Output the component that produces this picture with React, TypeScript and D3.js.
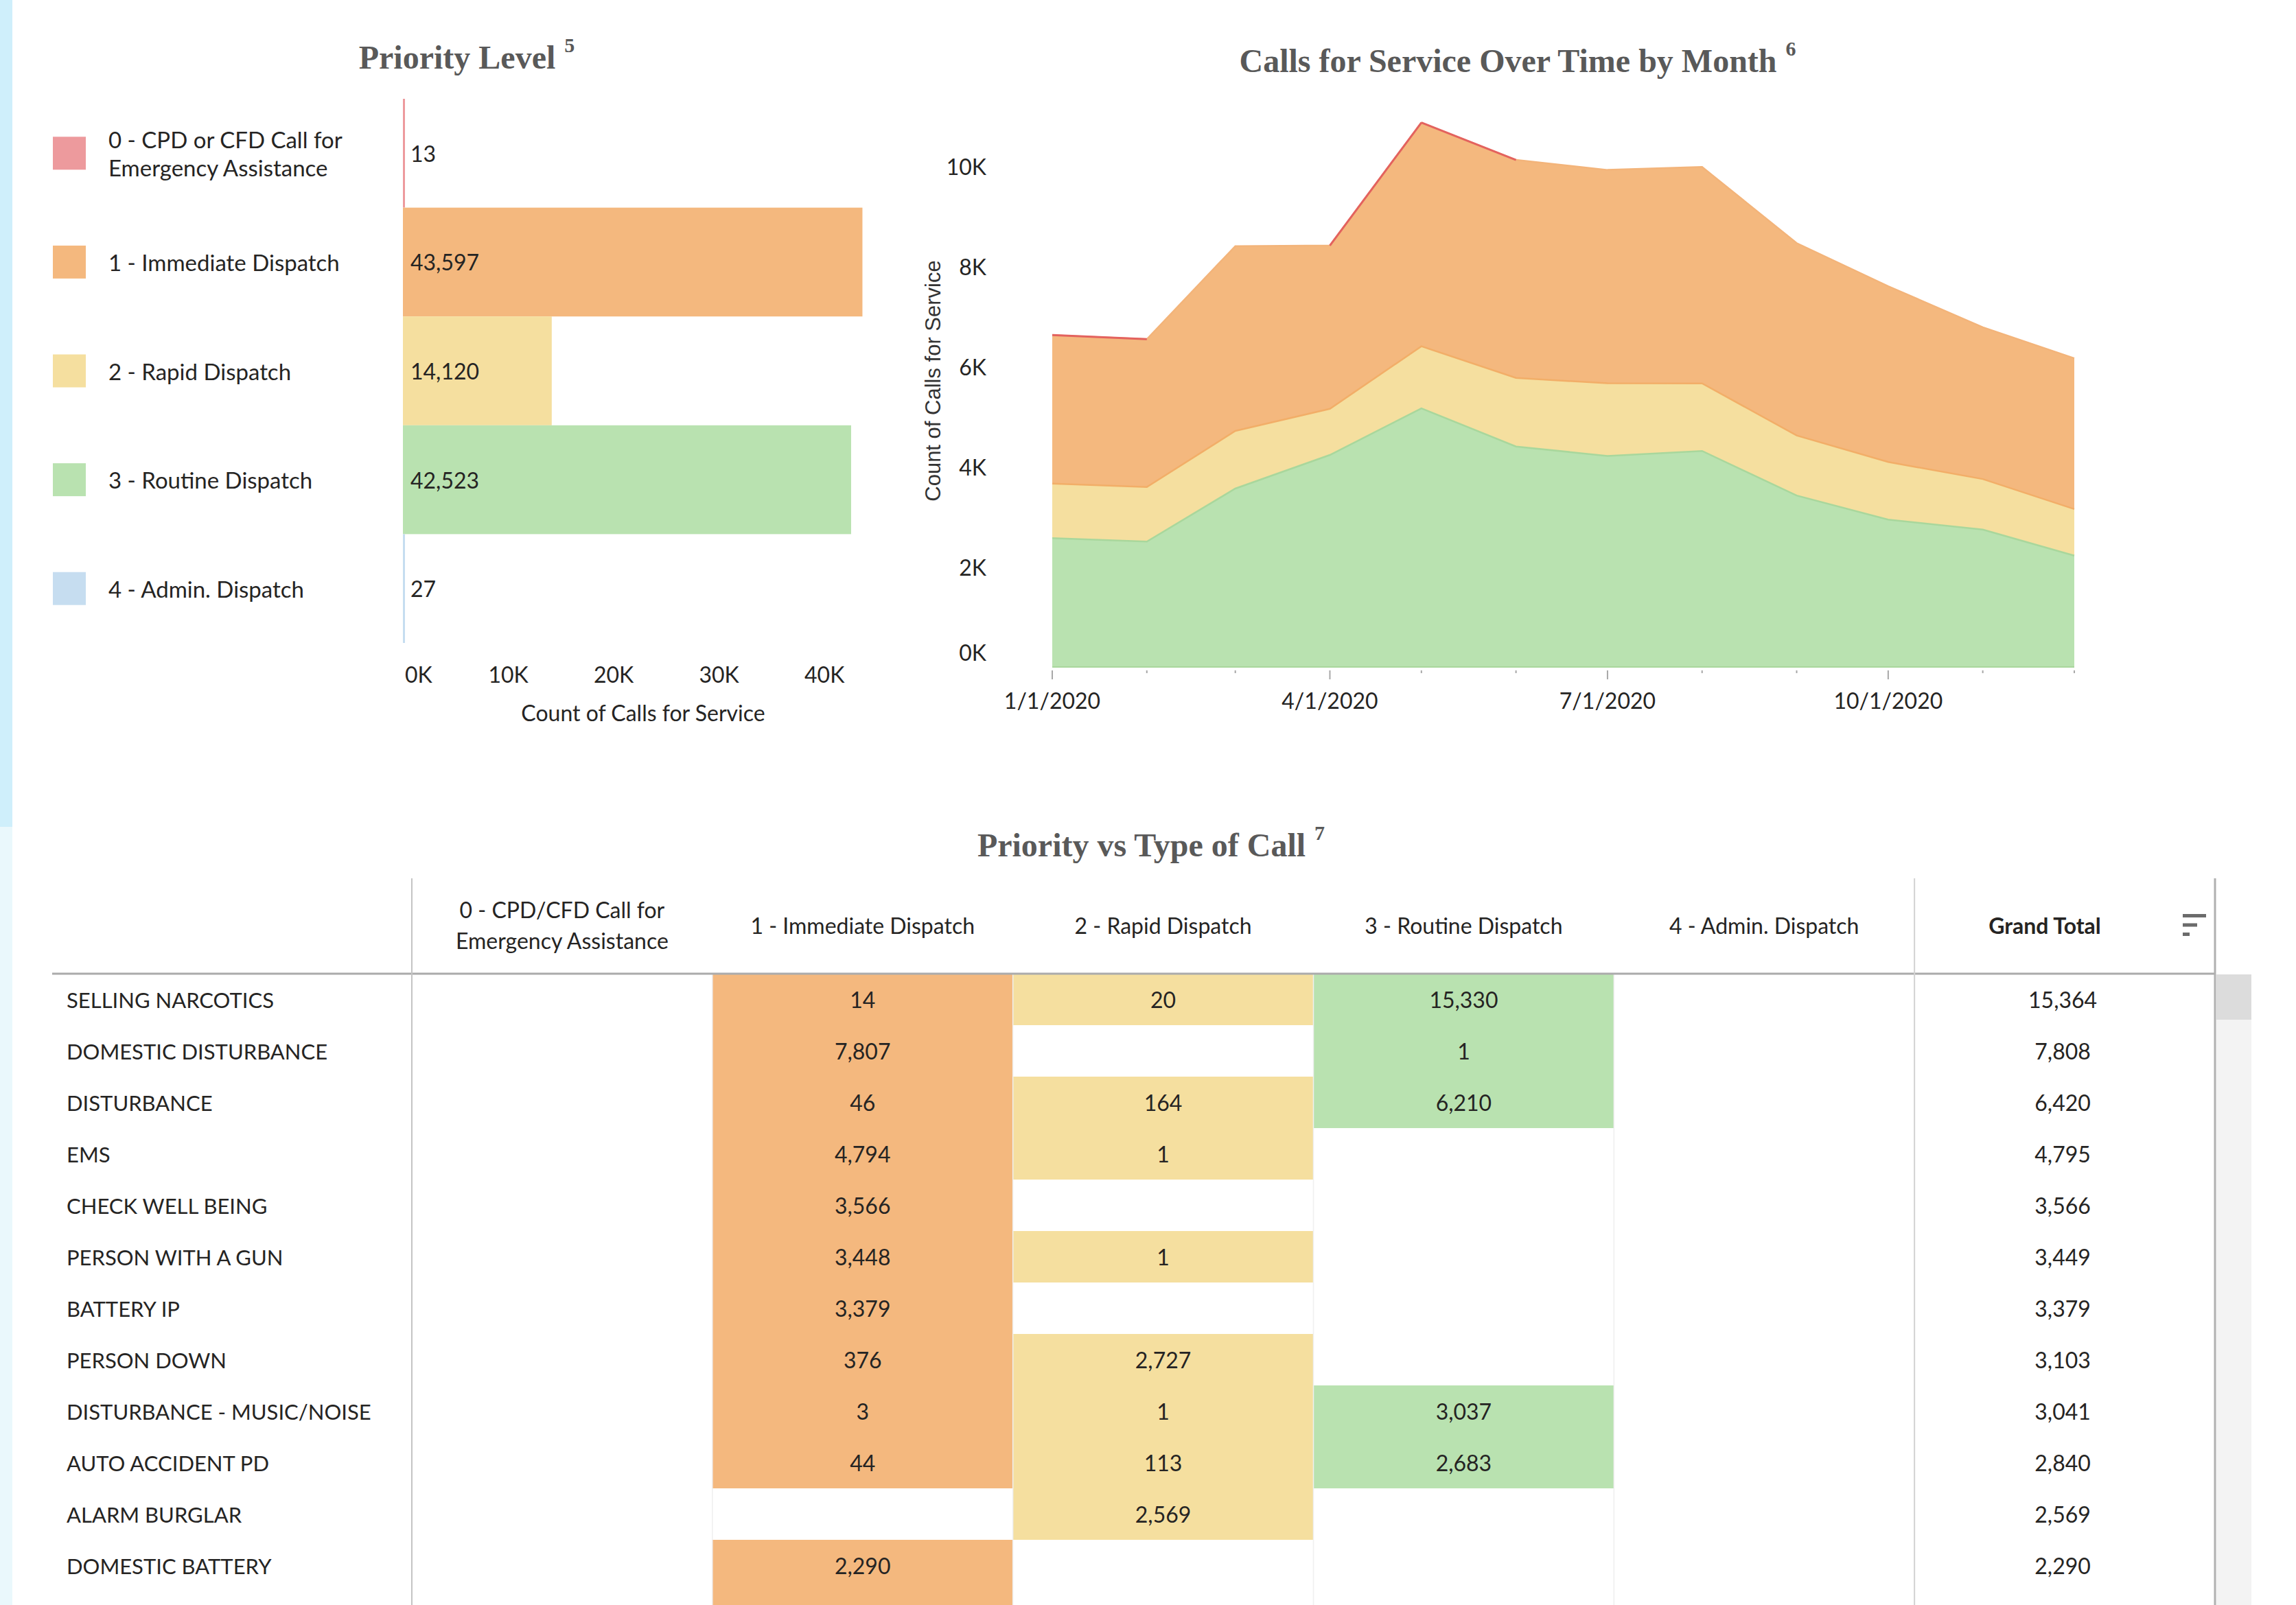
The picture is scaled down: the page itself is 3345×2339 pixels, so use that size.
import React, { useEffect, useRef } from 'react';
import * as d3 from 'd3';

// Priority level bar chart
const priorityLabels = ['0 - CPD or CFD Call for\nEmergency Assistance', '1 - Immediate Dispatch', '2 - Rapid Dispatch', '3 - Routine Dispatch', '4 - Admin. Dispatch'];
const priorityTotals = [13, 43597, 14120, 42523, 27];
const priorityColors = ['#ED9A9D', '#F4B87E', '#F5DF9F', '#B9E2B0', '#C6DDF0'];
const barTicks = [0, 10000, 20000, 30000, 40000];

// Calls for service by month (stacked area)
const months = ['2020-01-01', '2020-02-01', '2020-03-01', '2020-04-01', '2020-05-01', '2020-06-01',
  '2020-07-01', '2020-08-01', '2020-09-01', '2020-10-01', '2020-11-01', '2020-12-01'];
const cpdByMonth = [6, 0, 0, 0, 7, 0, 0, 0, 0, 0, 0, 0];
const immediateByMonth = [2960, 2950, 3690, 3260, 4460, 4350, 4260, 4320, 3840, 3510, 3030, 3010];
const rapidByMonth = [1090, 1090, 1150, 920, 1240, 1370, 1450, 1350, 1200, 1150, 1010, 930];
const routineByMonth = [2570, 2500, 3560, 4230, 5160, 4400, 4210, 4310, 3420, 2940, 2740, 2220];
const adminByMonth = [2, 3, 2, 3, 2, 2, 3, 2, 2, 2, 2, 2];
const areaTicks = [0, 2000, 4000, 6000, 8000, 10000];

// Priority vs type of call table (last row is cut off by the window, only its fill shows)
const callTypes = ['SELLING NARCOTICS', 'DOMESTIC DISTURBANCE', 'DISTURBANCE', 'EMS', 'CHECK WELL BEING',
  'PERSON WITH A GUN', 'BATTERY IP', 'PERSON DOWN', 'DISTURBANCE - MUSIC/NOISE', 'AUTO ACCIDENT PD',
  'ALARM BURGLAR', 'DOMESTIC BATTERY', ''];
const tableColumns = ['0 - CPD/CFD Call for\nEmergency Assistance', '1 - Immediate Dispatch', '2 - Rapid Dispatch',
  '3 - Routine Dispatch', '4 - Admin. Dispatch', 'Grand Total'];
const cpdCounts = [null, null, null, null, null, null, null, null, null, null, null, null, null];
const immediateCounts = [14, 7807, 46, 4794, 3566, 3448, 3379, 376, 3, 44, null, 2290, 2200];
const rapidCounts = [20, null, 164, 1, null, 1, null, 2727, 1, 113, 2569, null, null];
const routineCounts = [15330, 1, 6210, null, null, null, null, null, 3037, 2683, null, null, null];
const adminCounts = [null, null, null, null, null, null, null, null, null, null, null, null, null];

const W = 3345;
const H = 2339;
const TEXT = '#252423';

const App = () => {
  const svgRef = useRef();

  useEffect(() => {
    const svg = d3.select(svgRef.current);
    svg.selectAll('*').remove();
    svg.attr('width', W).attr('height', H)
      .style('font-family', 'Lato, sans-serif');

    svg.append('rect').attr('width', W).attr('height', H).attr('fill', '#fff');
    // side strip
    svg.append('rect').attr('x', 0).attr('y', 0).attr('width', 18).attr('height', 1205).attr('fill', '#CFEFFB');
    svg.append('rect').attr('x', 0).attr('y', 1205).attr('width', 18).attr('height', H - 1205).attr('fill', '#EAF8FC');

    const title = (text, sup, cx, baseline) => {
      const t = svg.append('text')
        .attr('x', cx).attr('y', baseline)
        .attr('text-anchor', 'middle')
        .attr('font-family', '"Liberation Serif", serif')
        .attr('font-weight', 'bold')
        .attr('font-size', 48)
        .attr('fill', '#595959')
        .text(text);
      const w = t.node().getComputedTextLength();
      svg.append('text')
        .attr('x', cx + w / 2 + 13).attr('y', baseline - 24)
        .attr('font-family', '"Liberation Serif", serif')
        .attr('font-weight', 'bold')
        .attr('font-size', 30)
        .attr('fill', '#595959')
        .text(sup);
    };

    title('Priority Level', '5', 666, 100);
    title('Calls for Service Over Time by Month', '6', 2197, 105);
    title('Priority vs Type of Call', '7', 1663, 1248);

    // ---- Priority level bars ----
    const yB = d3.scaleBand().domain(priorityLabels).range([144, 937]);
    const xB = d3.scaleLinear().domain([0, 45000]).range([587, 1278]);
    const bars = svg.append('g');

    bars.selectAll('rect.bar')
      .data(priorityLabels)
      .enter().append('rect')
      .attr('class', 'bar')
      .attr('x', xB(0))
      .attr('y', d => yB(d))
      .attr('height', yB.bandwidth())
      .attr('width', (d, i) => Math.max(xB(priorityTotals[i]) - xB(0), 3))
      .attr('fill', (d, i) => priorityColors[i]);

    bars.selectAll('text.val')
      .data(priorityLabels)
      .enter().append('text')
      .attr('class', 'val')
      .attr('x', xB(0) + 11)
      .attr('y', d => yB(d) + yB.bandwidth() / 2)
      .attr('dominant-baseline', 'central')
      .attr('font-size', 32)
      .attr('fill', TEXT)
      .text((d, i) => d3.format(',')(priorityTotals[i]));

    // legend
    priorityLabels.forEach((d, i) => {
      const cy = yB(d) + yB.bandwidth() / 2;
      bars.append('rect')
        .attr('x', 77).attr('y', cy - 24)
        .attr('width', 48).attr('height', 48)
        .attr('fill', priorityColors[i]);
      const lines = d.split('\n');
      lines.forEach((line, j) => {
        bars.append('text')
          .attr('x', 158)
          .attr('y', cy + (j - (lines.length - 1) / 2) * 41)
          .attr('dominant-baseline', 'central')
          .attr('font-size', 33)
          .attr('fill', TEXT)
          .text(line);
      });
    });

    bars.selectAll('text.tick')
      .data(barTicks)
      .enter().append('text')
      .attr('class', 'tick')
      .attr('x', (d, i) => i === 0 ? xB(d) + 3 : xB(d))
      .attr('y', 982)
      .attr('text-anchor', (d, i) => i === 0 ? 'start' : 'middle')
      .attr('dominant-baseline', 'central')
      .attr('font-size', 32)
      .attr('fill', TEXT)
      .text(d => `${d / 1000}K`);

    bars.append('text')
      .attr('x', 937).attr('y', 1038)
      .attr('text-anchor', 'middle')
      .attr('dominant-baseline', 'central')
      .attr('font-size', 32)
      .attr('fill', TEXT)
      .text('Count of Calls for Service');

    // ---- Stacked area by month ----
    const parse = d3.timeParse('%Y-%m-%d');
    const monthly = months.map((m, i) => ({
      date: parse(m),
      admin: adminByMonth[i],
      routine: routineByMonth[i],
      rapid: rapidByMonth[i],
      immediate: immediateByMonth[i],
      cpd: cpdByMonth[i],
    }));
    const keys = ['admin', 'routine', 'rapid', 'immediate', 'cpd'];
    const fills = { admin: '#C6DDF0', routine: '#B9E2B0', rapid: '#F5DF9F', immediate: '#F4B87E', cpd: '#ED9A9D' };
    const edges = { admin: 'none', routine: '#A9D79C', rapid: '#F2AE68', immediate: '#F3B47A', cpd: '#E3625E' };
    const series = d3.stack().keys(keys)(monthly);

    const xT = d3.scaleTime().domain([parse(months[0]), parse(months[months.length - 1])]).range([1533, 3022]);
    const yA = d3.scaleLinear().domain([0, 11000]).range([972, 972 - 11000 * 0.073]);
    const areaG = svg.append('g');

    const area = d3.area()
      .x(d => xT(d.data.date))
      .y0(d => yA(d[0]))
      .y1(d => yA(d[1]));
    const topLine = d3.line()
      .x(d => xT(d.data.date))
      .y(d => yA(d[1]));

    areaG.selectAll('path.layer')
      .data(series.filter(s => s.key !== 'cpd'))
      .enter().append('path')
      .attr('class', 'layer')
      .attr('d', area)
      .attr('fill', s => fills[s.key]);

    // green bottom edge
    areaG.append('path')
      .attr('d', d3.line().x(d => xT(d.data.date)).y(d => yA(d[0]))(series[0]))
      .attr('fill', 'none').attr('stroke', '#A9D79C').attr('stroke-width', 2);

    areaG.selectAll('path.edge')
      .data(series.filter(s => s.key !== 'cpd' && s.key !== 'admin'))
      .enter().append('path')
      .attr('class', 'edge')
      .attr('d', topLine)
      .attr('fill', 'none')
      .attr('stroke', s => edges[s.key])
      .attr('stroke-width', 2.5);

    // CPD layer is only a sliver: draw its top edge where it has calls
    const cpdSeries = series.find(s => s.key === 'cpd');
    const cpdSegments = d3.pairs(cpdSeries).filter(([a, b]) => a.data.cpd > 0 || b.data.cpd > 0);
    areaG.selectAll('path.cpd')
      .data(cpdSegments)
      .enter().append('path')
      .attr('class', 'cpd')
      .attr('d', d => topLine(d))
      .attr('fill', 'none')
      .attr('stroke', edges.cpd)
      .attr('stroke-width', 3);

    // x ticks
    const monthDates = monthly.map(d => d.date);
    areaG.selectAll('line.xt')
      .data(monthDates)
      .enter().append('line')
      .attr('class', 'xt')
      .attr('x1', d => xT(d)).attr('x2', d => xT(d))
      .attr('y1', 977)
      .attr('y2', d => d.getMonth() % 3 === 0 ? 990 : 981)
      .attr('stroke', '#A8A8A8')
      .attr('stroke-width', 2);

    const fmtDate = d3.timeFormat('%-m/%-d/%Y');
    areaG.selectAll('text.xl')
      .data(monthDates.filter(d => d.getMonth() % 3 === 0))
      .enter().append('text')
      .attr('class', 'xl')
      .attr('x', d => xT(d))
      .attr('y', 1020)
      .attr('text-anchor', 'middle')
      .attr('dominant-baseline', 'central')
      .attr('font-size', 32)
      .attr('fill', TEXT)
      .text(d => fmtDate(d));

    areaG.selectAll('text.yl')
      .data(areaTicks)
      .enter().append('text')
      .attr('class', 'yl')
      .attr('x', 1437)
      .attr('y', (d, i) => i === 0 ? yA(d) - 22 : yA(d))
      .attr('text-anchor', 'end')
      .attr('dominant-baseline', 'central')
      .attr('font-size', 32)
      .attr('fill', TEXT)
      .text(d => `${d / 1000}K`);

    areaG.append('text')
      .attr('transform', 'translate(1359,555) rotate(-90)')
      .attr('text-anchor', 'middle')
      .attr('dominant-baseline', 'central')
      .attr('font-family', '"Liberation Sans", Arial, sans-serif')
      .attr('font-size', 31)
      .attr('fill', '#333')
      .text('Count of Calls for Service');

    // ---- Table ----
    const tbl = svg.append('g');
    const rowIdx = callTypes.map((d, i) => i);
    const shownRows = rowIdx.filter(i => callTypes[i] !== '');
    const yR = d3.scaleBand().domain(rowIdx).range([1419, 1419 + callTypes.length * 75]);
    const xC = d3.scaleBand().domain(tableColumns).range([600, 3227]);
    const colValues = [cpdCounts, immediateCounts, rapidCounts, routineCounts, adminCounts];
    const colFills = ['#ED9A9D', '#F4B87E', '#F5DF9F', '#B9E2B0', '#C6DDF0'];
    const totals = rowIdx.map(i => d3.sum(colValues, c => c[i] || 0));

    colValues.forEach((vals, c) => {
      const col = tableColumns[c];
      tbl.selectAll(`rect.c${c}`)
        .data(rowIdx.filter(i => vals[i] != null))
        .enter().append('rect')
        .attr('x', xC(col))
        .attr('y', i => yR(i))
        .attr('width', xC.bandwidth())
        .attr('height', yR.bandwidth())
        .attr('fill', colFills[c]);
    });

    // faint column separators
    [1, 2, 3, 4].forEach(c => {
      tbl.append('line')
        .attr('x1', xC(tableColumns[c])).attr('x2', xC(tableColumns[c]))
        .attr('y1', 1419).attr('y2', H)
        .attr('stroke', '#EFEFEF').attr('stroke-width', 1.5);
    });

    colValues.forEach((vals, c) => {
      const col = tableColumns[c];
      tbl.selectAll(`text.v${c}`)
        .data(shownRows.filter(i => vals[i] != null))
        .enter().append('text')
        .attr('x', xC(col) + xC.bandwidth() / 2)
        .attr('y', i => yR(i) + yR.bandwidth() / 2)
        .attr('text-anchor', 'middle')
        .attr('dominant-baseline', 'central')
        .attr('font-size', 32)
        .attr('fill', TEXT)
        .text(i => d3.format(',')(vals[i]));
    });

    tbl.selectAll('text.tot')
      .data(shownRows)
      .enter().append('text')
      .attr('x', xC('Grand Total') + xC.bandwidth() / 2 - 3)
      .attr('y', i => yR(i) + yR.bandwidth() / 2)
      .attr('text-anchor', 'middle')
      .attr('dominant-baseline', 'central')
      .attr('font-size', 32)
      .attr('fill', TEXT)
      .text(i => d3.format(',')(totals[i]));

    tbl.selectAll('text.rl')
      .data(shownRows)
      .enter().append('text')
      .attr('x', 97)
      .attr('y', i => yR(i) + yR.bandwidth() / 2)
      .attr('dominant-baseline', 'central')
      .attr('font-size', 31)
      .attr('fill', TEXT)
      .text(i => callTypes[i]);

    // header
    tableColumns.forEach(col => {
      const lines = col.split('\n');
      const isTotal = col === 'Grand Total';
      lines.forEach((line, j) => {
        tbl.append('text')
          .attr('x', xC(col) + xC.bandwidth() / 2 - (isTotal ? 29 : 0))
          .attr('y', 1348 + (j - (lines.length - 1) / 2) * 45)
          .attr('text-anchor', 'middle')
          .attr('dominant-baseline', 'central')
          .attr('font-size', 32)
          .attr('font-weight', isTotal ? 'bold' : 'normal')
          .attr('fill', TEXT)
          .text(line);
      });
    });

    // sort icon
    [34, 21, 10].forEach((w, i) => {
      tbl.append('rect')
        .attr('x', 3180).attr('y', 1332 + i * 13.5)
        .attr('width', w).attr('height', 5)
        .attr('fill', '#6B6B6B');
    });

    // grid lines
    tbl.append('line')
      .attr('x1', 76).attr('x2', 3227).attr('y1', 1419).attr('y2', 1419)
      .attr('stroke', '#ABABAB').attr('stroke-width', 3);
    [[600, '#C4C4C4', 2], [xC('Grand Total'), '#D2D2D2', 2], [3227, '#B0B0B0', 3]].forEach(([x, c, w]) => {
      tbl.append('line')
        .attr('x1', x).attr('x2', x).attr('y1', 1280).attr('y2', H)
        .attr('stroke', c).attr('stroke-width', w);
    });

    // scrollbar
    tbl.append('rect').attr('x', 3229).attr('y', 1420).attr('width', 51).attr('height', H - 1420).attr('fill', '#F3F3F3');
    tbl.append('rect').attr('x', 3229).attr('y', 1420).attr('width', 51).attr('height', 66).attr('fill', '#DCDCDC');
  }, []);

  return <svg ref={svgRef} style={{ position: 'absolute', left: 0, top: 0 }}></svg>;
};

export default App;
